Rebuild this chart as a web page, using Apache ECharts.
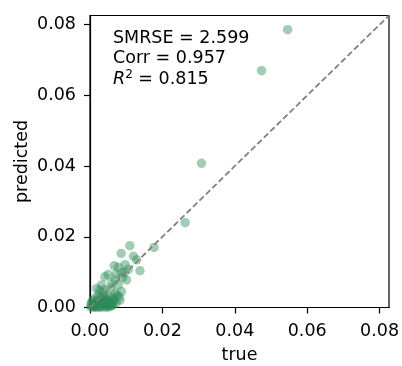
<!DOCTYPE html>
<html>
<head>
<meta charset="utf-8">
<script src="https://cdn.jsdelivr.net/npm/echarts@6/dist/echarts.min.js"></script>
<style>
  html, body { margin: 0; padding: 0; background: #fff; }
  #chart { width: 402px; height: 366px; }
</style>
</head>
<body>
<div id="chart"></div>
<script>
// values
const trueVals = [
  0.0546, 0.0474, 0.0308, 0.0263, 0.0177, 0.0110, 0.0086, 0.0120, 0.0129, 0.0138,
  0.0097, 0.0067, 0.0078, 0.0106, 0.0087, 0.0050, 0.0041, 0.0069, 0.0101, 0.0060,
  0.0032, 0.0078, 0.0018, 0.0041, 0.0087, 0.0069, 0.0023, 0.0050, 0.0083, 0.0014,
  0.0032, 0.0060, 0.0009, 0.0028, 0.0046, 0.0064, 0.0005, 0.0041, 0.0002, 0.0010,
  0.0018, 0.0025, 0.0035, 0.0042, 0.0052, 0.0055, 0.0015, 0.0022, 0.0030, 0.0038,
  0.0048, 0.0005, 0.0012, 0.0030, 0.0045, 0.0058, 0.0068, 0.0075, 0.0057, 0.0090,
  0.0096, 0.0072, 0.0035, 0.0026, 0.0062, 0.0008, 0.0003, 0.0020, 0.0028, 0.0036,
  0.0044, 0.0050, 0.0056, 0.0033, 0.0040, 0.0047, 0.0017, 0.0024, 0.0053, 0.0061,
  0.0038, 0.0012, 0.0065, 0.0072, 0.0080
];
const predVals = [
  0.0786, 0.0670, 0.0408, 0.0240, 0.0170, 0.0175, 0.0153, 0.0145, 0.0135, 0.0104,
  0.0121, 0.0118, 0.0114, 0.0108, 0.0098, 0.0093, 0.0087, 0.0078, 0.0078, 0.0069,
  0.0064, 0.0064, 0.0054, 0.0050, 0.0045, 0.0040, 0.0035, 0.0031, 0.0021, 0.0026,
  0.0016, 0.0016, 0.0007, 0.0007, 0.0007, 0.0007, 0.0016, 0.0026, 0.0002, 0.0003,
  0.0001, 0.0002, 0.0003, 0.0012, 0.0002, 0.0012, 0.0012, 0.0020, 0.0028, 0.0020,
  0.0022, 0.0004, 0.0000, 0.0000, 0.0000, 0.0004, 0.0024, 0.0035, 0.0055, 0.0085,
  0.0100, 0.0094, 0.0042, 0.0048, 0.0030, 0.0020, 0.0010, 0.0006, 0.0010, 0.0008,
  0.0005, 0.0009, 0.0007, 0.0015, 0.0017, 0.0014, 0.0004, 0.0013, 0.0018, 0.0012,
  0.0032, 0.0008, 0.0018, 0.0012, 0.0030
];
const tickVals = [0, 0.02, 0.04, 0.06, 0.08];
const axisMax = 0.0826;
const statLines = ['SMRSE = 2.599', 'Corr = 0.957', '0.815'];

const FONT = 'DejaVu Sans';
const FS = 17.5;
const chart = echarts.init(document.getElementById('chart'));

const axisCommon = {
  type: 'value',
  min: 0,
  max: axisMax,
  nameLocation: 'middle',
  nameMoveOverlap: false,
  nameTextStyle: { fontFamily: FONT, fontSize: FS, color: '#000' },
  axisLine: { show: true, lineStyle: { color: '#000', width: 1.2 } },
  axisTick: { show: true, inside: false, length: 6, lineStyle: { color: '#000', width: 1.2 }, customValues: tickVals },
  axisLabel: { fontFamily: FONT, fontSize: FS, color: '#000', margin: 15, customValues: tickVals, formatter: v => v.toFixed(2) },
  splitLine: { show: false }
};

chart.setOption({
  animation: false,
  grid: {
    left: 90, top: 15.5, right: 13, bottom: 58.5,
    outerBoundsMode: 'none',
    show: true, borderColor: '#000', borderWidth: 1.2, backgroundColor: 'transparent'
  },
  xAxis: Object.assign({}, axisCommon, { name: 'true', nameGap: 39 }),
  yAxis: Object.assign({}, axisCommon, {
    name: 'predicted', nameGap: 59,
    axisLabel: Object.assign({}, axisCommon.axisLabel, { margin: 14 })
  }),
  graphic: [{
    type: 'text',
    left: 113,
    top: 28,
    style: {
      text: statLines[0] + '\n' + statLines[1] + '\n{i|R}{sup|2} = ' + statLines[2],
      fontFamily: FONT,
      fontSize: FS,
      lineHeight: 20.5,
      fill: '#000',
      rich: {
        i: { fontFamily: FONT, fontSize: FS, fontStyle: 'italic', fill: '#000' },
        sup: { fontFamily: FONT, fontSize: 12, fill: '#000', padding: [0, 0, 8, 0] }
      }
    }
  }],
  series: [
    {
      type: 'line',
      data: [[0, 0], [axisMax, axisMax]],
      showSymbol: false,
      symbol: 'none',
      lineStyle: { color: '#808080', width: 1.8, type: [6, 3] },
      z: 3
    },
    {
      type: 'scatter',
      data: trueVals.map((t, i) => [t, predVals[i]]),
      symbolSize: 9.5,
      itemStyle: { color: 'rgba(46,139,87,0.55)' },
      z: 2
    }
  ]
});
</script>
</body>
</html>
